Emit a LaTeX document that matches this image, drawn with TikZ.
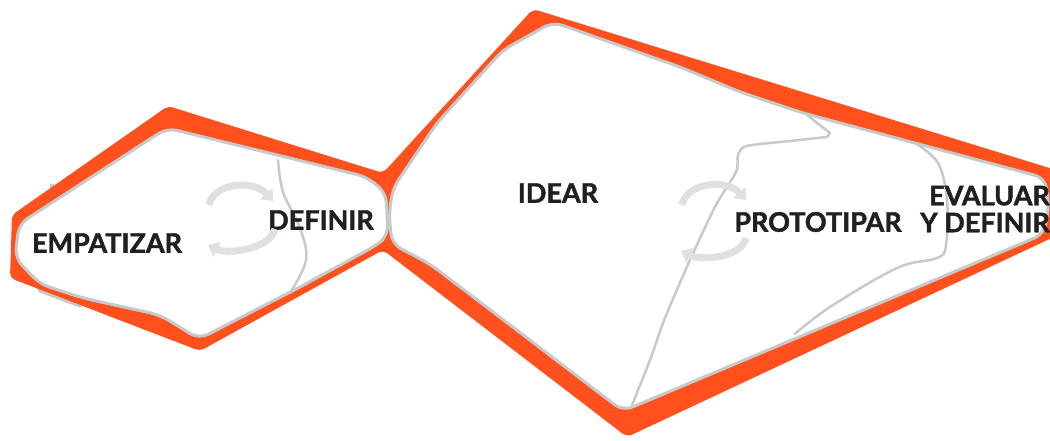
\documentclass[tikz,border=0pt]{standalone}
\usepackage{fontspec}
\setmainfont{Lato}
\newfontfamily\phasefont{Lato}[BoldFeatures={FakeBold=1.6}]
\usepackage{tikz}
\usetikzlibrary{arrows.meta,positioning,calc}
\definecolor{dtorange}{RGB}{255,80,30}
\definecolor{dtgray}{RGB}{200,201,201}
\definecolor{cyclegray}{RGB}{222,225,225}
\definecolor{dtink}{RGB}{35,31,32}

\begin{document}
\begin{tikzpicture}[x=1pt,y=-1pt,
			blob/.style={fill=white,draw=dtgray,line width=3pt,rounded corners=10pt,line join=round},
			seam/.style={draw=dtgray,line width=2.5pt,line cap=round,line join=round},
			cyc/.style={draw=cyclegray,line width=7pt,-{Triangle[width=16pt,length=10pt]}},
			lbl/.style={text=dtink,font=\phasefont\fontsize{27}{27}\selectfont\bfseries,inner sep=0pt}]
		\useasboundingbox (0,0) rectangle (1050,440);
		% shadow and orange backing
		\draw [dtgray,line width=5pt,line cap=round] (40,290) -- (80,305) (52,186) -- (56,193);
		\fill [dtorange,rounded corners=5pt] (12,215) -- (168,106) -- (383,173) -- (533,9) -- (1056,170)
			-- (1056,236) -- (627,437) -- (383,250) -- (200,351) -- (10,278) -- cycle;
		% white phases
		\path [blob] (553,22) -- (680,67) -- (740,92) -- (803,113) -- (1045,178) -- (1049,205) -- (1044,234)
			-- (623,411) -- (430,264) -- (392,244) -- (389,214) -- (393,188) -- (437,123) -- (503,50) -- cycle;
		\path [blob] (167,128) -- (367,177) -- (386,193) -- (388,236) -- (375,246) -- (300,287) -- (199,339)
			-- (160,315) -- (83,298) -- (40,284) -- (15,258) -- (19,224) -- cycle;
		% seams between phases
		\draw [seam] plot [smooth,tension=0.6] coordinates {(278,160) (283,192) (300,228) (306,260) (290,293)};
		\draw [seam] plot [smooth,tension=0.5] coordinates {(632,405) (650,360) (665,318) (690,260) (716,205)
			(736,172) (738,155) (747,146) (790,141) (827,137)};
		\draw [seam] (827,137) -- (830,133) -- (807,115);
		\draw [seam] plot [smooth,tension=0.6] coordinates {(915,143) (938,163) (947,200) (946,245) (937,258)
			(897,268) (830,307) (795,334)};
		% labels
		\path 	(107,243) node (emp) [lbl] {EMPATIZAR}
				(321,220) node (def) [lbl] {DEFINIR}
				(558,193) node (idear) [lbl] {IDEAR}
				(818,222) node (proto) [lbl] {PROTOTIPAR}
				(985,209) node (eval) [lbl,align=right] {EVALUAR\\Y DEFINIR};
		% iteration arrows
		\coordinate (la) at (209,205);
		\coordinate (lb) at (273,201);
		\coordinate (lc) at (275,229);
		\coordinate (ld) at (208,245);
		\coordinate (ra) at (682,205);
		\coordinate (rb) at (746,200);
		\coordinate (rc) at (746,238);
		\coordinate (rd) at (681,251);
		\draw [cyc] (la) .. controls ($(la)+(4,-22)$) and ($(lb)+(-20,-22)$) .. (lb);
		\draw [cyc] (lc) .. controls ($(lc)+(-5,20)$) and ($(ld)+(20,10)$) .. (ld);
		\draw [cyc] (ra) .. controls ($(ra)+(4,-22)$) and ($(rb)+(-20,-22)$) .. (rb);
		\draw [cyc] (rc) .. controls ($(rc)+(-5,20)$) and ($(rd)+(20,10)$) .. (rd);
	\end{tikzpicture}
\end{document}
